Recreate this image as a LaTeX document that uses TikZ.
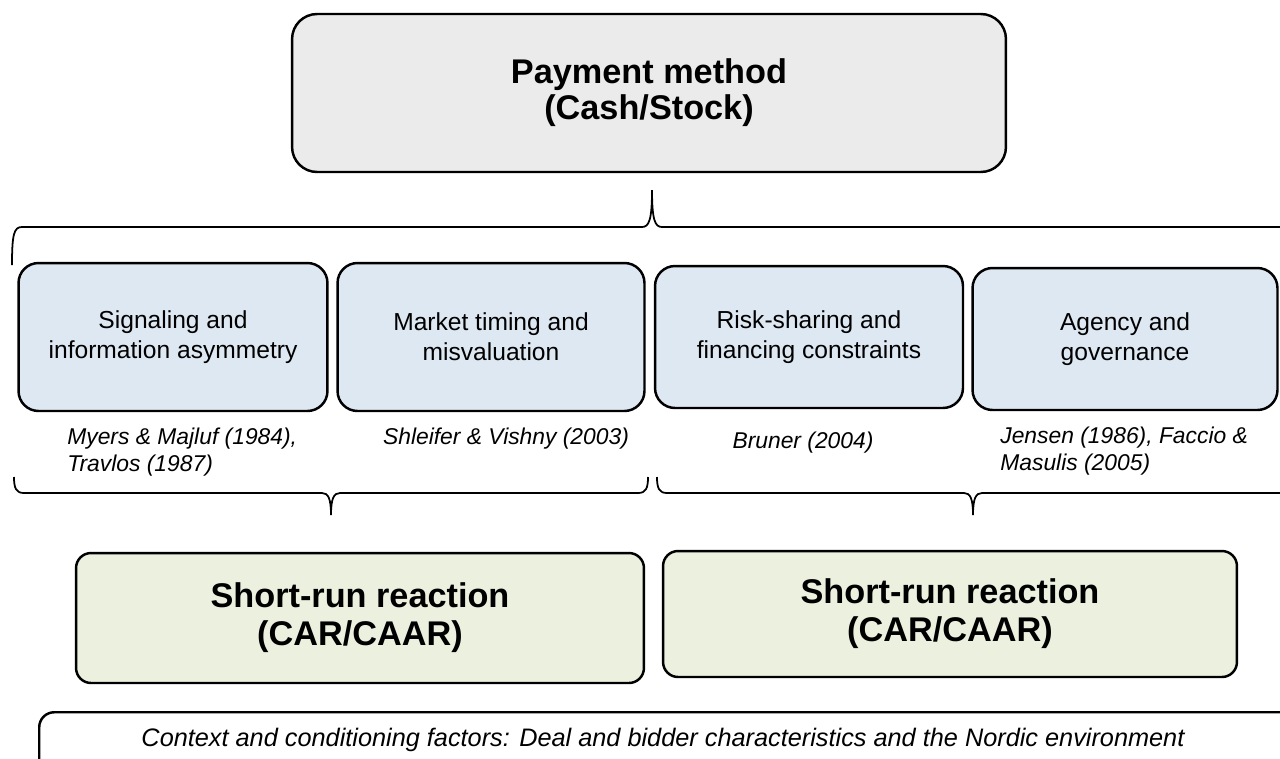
\documentclass[tikz,border=0pt]{standalone}
\usepackage{fontspec}
\setmainfont{Liberation Sans}
\definecolor{paygray}{RGB}{235,235,235}
\definecolor{theoryblue}{RGB}{222,232,242}
\definecolor{reactgreen}{RGB}{235,241,222}
\begin{document}
\begin{tikzpicture}[x=0.02cm,y=-0.02cm,
  box/.style={draw,line width=1.4pt,rounded corners=0.4cm,inner sep=0,align=center},
  paybox/.style={box,fill=paygray,rounded corners=0.5cm,font=\bfseries\fontsize{19.5}{20.5}\selectfont},
  theory/.style={box,fill=theoryblue,font=\fontsize{14}{17}\selectfont},
  reaction/.style={box,fill=reactgreen,rounded corners=0.3cm,font=\bfseries\fontsize{19.5}{21.5}\selectfont},
  cite/.style={align=left,inner sep=0,font=\itshape\fontsize{13}{15.5}\selectfont},
  brace/.style={line width=1pt}]
\useasboundingbox (0,0) rectangle (1280,758);
\clip (0,0) rectangle (1280,758);
\node[paybox,minimum width=14.28cm,minimum height=3.16cm] at (649,93) (pay) {Payment method\\(Cash/Stock)};
\node[theory,minimum width=6.18cm,minimum height=2.96cm] at (173,337) (sig) {Signaling and\\information asymmetry};
\node[theory,minimum width=6.14cm,minimum height=2.96cm] at (491,337) (mkt) {Market timing and\\misvaluation};
\node[theory,minimum width=6.16cm,minimum height=2.84cm] at (809,337) (risk) {Risk-sharing and\\financing constraints};
\node[theory,minimum width=6.10cm,minimum height=2.84cm] at (1125,339) (agency) {Agency and\\governance};
\node[cite,anchor=west] at (67,452) (citesig) {Myers \& Majluf (1984),\\Travlos (1987)};
\node[cite] at (506,439) (citemkt) {Shleifer \& Vishny (2003)};
\node[cite] at (803,443) (citerisk) {Bruner (2004)};
\node[cite,anchor=west] at (1000,451) (citeagency) {Jensen (1986), Faccio \&\\Masulis (2005)};
\node[reaction,minimum width=11.36cm,minimum height=2.6cm] at (360,618) (srleft) {Short-run reaction\\(CAR/CAAR)};
\node[reaction,minimum width=11.48cm,minimum height=2.52cm] at (950,614) (srright) {Short-run reaction\\(CAR/CAAR)};
\node[box,rounded corners=0.3cm,minimum width=25.3cm,minimum height=2cm,anchor=north west] at (38,711) (ctx) {};
\node[cite,font=\itshape\fontsize{14.4}{16}\selectfont] at (663,740) (ctxtext) {Context and conditioning factors: Deal and bidder characteristics and the Nordic environment};
\draw[brace] (12,265) .. controls (12,234) and (14,227) .. (22,227) -- (642,227) .. controls (649,227) and (652,220) .. (652,190) .. controls (652,220) and (655,227) .. (662,227) -- (1300,227);
\draw[brace] (14,477) .. controls (14,488) and (16,493) .. (24,493) -- (322,493) .. controls (328,493) and (331,498) .. (331,515) .. controls (331,498) and (334,493) .. (340,493) -- (638,493) .. controls (646,493) and (648,488) .. (648,477);
\draw[brace] (657,477) .. controls (657,488) and (659,493) .. (667,493) -- (964,493) .. controls (970,493) and (973,498) .. (973,515) .. controls (973,498) and (976,493) .. (982,493) -- (1300,493);
\end{tikzpicture}
\end{document}
